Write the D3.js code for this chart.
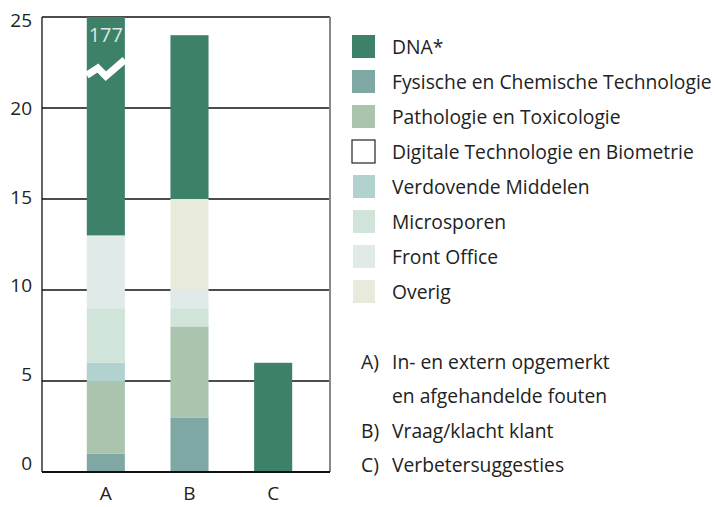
<!DOCTYPE html>
<html>
<head>
<meta charset="utf-8">
<script src="https://cdn.jsdelivr.net/npm/d3@7"></script>
<style>
	body { margin: 0; background: #fff; }
	svg text { font-family: "Open Sans", Roboto, sans-serif; fill: #222; }
</style>
</head>
<body>
<svg id="chart" width="715" height="507"></svg>
<script>
'use strict';

//Data
var categories = ['A', 'B', 'C'];
var seriesNames = ['DNA*', 'Fysische en Chemische Technologie', 'Pathologie en Toxicologie',
	'Digitale Technologie en Biometrie', 'Verdovende Middelen', 'Microsporen', 'Front Office', 'Overig'];
// values per category (A, B, C)
var dnaValues = [164, 9, 6];
var fysischeValues = [1, 3, 0];
var pathologieValues = [4, 5, 0];
var digitaleValues = [0, 0, 0];
var verdovendeValues = [1, 0, 0];
var microsporenValues = [3, 1, 0];
var frontOfficeValues = [4, 1, 0];
var overigValues = [0, 5, 0];
var yTicks = [0, 5, 10, 15, 20, 25];
var noteLines = [
	['A)', 'In- en extern opgemerkt'],
	['', 'en afgehandelde fouten'],
	['B)', 'Vraag/klacht klant'],
	['C)', 'Verbetersuggesties']
];

//Colors per series
var colors = {
	'DNA*': '#3d8169',
	'Fysische en Chemische Technologie': '#7fa8a4',
	'Pathologie en Toxicologie': '#abc4ad',
	'Digitale Technologie en Biometrie': '#ffffff',
	'Verdovende Middelen': '#b2d2cf',
	'Microsporen': '#d0e4da',
	'Front Office': '#e0eae9',
	'Overig': '#e8eadc'
};

//stacking order from bottom to top
var stackOrder = ['Fysische en Chemische Technologie', 'Pathologie en Toxicologie',
	'Digitale Technologie en Biometrie', 'Verdovende Middelen', 'Microsporen',
	'Front Office', 'Overig', 'DNA*'];

var valuesBySeries = {
	'DNA*': dnaValues,
	'Fysische en Chemische Technologie': fysischeValues,
	'Pathologie en Toxicologie': pathologieValues,
	'Digitale Technologie en Biometrie': digitaleValues,
	'Verdovende Middelen': verdovendeValues,
	'Microsporen': microsporenValues,
	'Front Office': frontOfficeValues,
	'Overig': overigValues
};

var table = categories.map(function(c, i) {
	var row = {cat: c};
	seriesNames.forEach(function(s) { row[s] = valuesBySeries[s][i]; });
	return row;
});

var svg = d3.select('#chart');

var plot = {left: 42, right: 330, top: 17, bottom: 472};
var yMax = 25;

var x = d3.scaleBand()
	.domain(categories)
	.range([64, 315])
	.paddingInner(0.545)
	.paddingOuter(0.2725);

var y = d3.scaleLinear()
	.domain([0, yMax])
	.range([plot.bottom, plot.top]);

//tick labels sit a little off the gridlines in the original
var yLabel = d3.scaleLinear()
	.domain([0, yMax])
	.range([463, 20]);

//gridlines
svg.append('g')
	.selectAll('line')
	.data(yTicks.filter(function(t) { return t > 0; }))
	.enter().append('line')
		.attr('x1', plot.left).attr('x2', plot.right)
		.attr('y1', function(d) { return y(d); })
		.attr('y2', function(d) { return y(d); })
		.attr('stroke', '#111').attr('stroke-width', 1.3);

//stacked bars
var stack = d3.stack().keys(stackOrder);
var layers = stack(table);

svg.append('g')
	.selectAll('g')
	.data(layers)
	.enter().append('g')
		.attr('fill', function(d) { return colors[d.key]; })
	.selectAll('rect')
	.data(function(d) { return d; })
	.enter().append('rect')
		.attr('x', function(d) { return x(d.data.cat); })
		.attr('width', x.bandwidth())
		.attr('y', function(d) { return y(Math.min(d[1], yMax)); })
		.attr('height', function(d) {
			return Math.max(0, y(Math.min(d[0], yMax)) - y(Math.min(d[1], yMax)));
		});

//break mark on bars that go past the axis
table.forEach(function(row) {
	var total = d3.sum(stackOrder, function(s) { return row[s]; });
	if (total <= yMax) return;
	var x0 = x(row.cat), w = x.bandwidth();
	var pts = [[x0, 21.8], [x0 + w * 0.29, 22.2], [x0 + w * 0.5, 21.75], [x0 + w, 22.65]];
	svg.append('path')
		.attr('d', d3.line()(pts.map(function(p) { return [p[0], y(p[1])]; })))
		.attr('fill', 'none')
		.attr('stroke', '#fff')
		.attr('stroke-width', 7)
		.attr('stroke-linejoin', 'miter');
	svg.append('text')
		.attr('x', x0 + w / 2)
		.attr('y', y(23.6))
		.attr('text-anchor', 'middle')
		.style('font-size', '20px')
		.style('fill', '#dde8e4')
		.text(total);
});

//frame
svg.append('line')
	.attr('x1', plot.right).attr('x2', plot.right)
	.attr('y1', plot.top).attr('y2', plot.bottom)
	.attr('stroke', '#888').attr('stroke-width', 2);
svg.append('line')
	.attr('x1', plot.left).attr('x2', plot.left)
	.attr('y1', plot.top).attr('y2', plot.bottom)
	.attr('stroke', '#111').attr('stroke-width', 1.3);
svg.append('line')
	.attr('x1', plot.left).attr('x2', plot.right)
	.attr('y1', plot.bottom).attr('y2', plot.bottom)
	.attr('stroke', '#111').attr('stroke-width', 2);

//y axis labels
var yAxis = svg.append('g')
	.attr('transform', 'translate(32,0)')
	.call(d3.axisLeft(yLabel).tickValues(yTicks).tickSize(0).tickPadding(0));
yAxis.select('.domain').remove();
yAxis.selectAll('text')
	.style('font-size', '19px')
	.style('font-family', '"Open Sans", sans-serif')
	.attr('fill', '#222');

//x axis labels
var xAxis = svg.append('g')
	.attr('transform', 'translate(0,' + plot.bottom + ')')
	.call(d3.axisBottom(x).tickSize(0).tickPadding(15));
xAxis.select('.domain').remove();
xAxis.selectAll('text')
	.style('font-size', '19px')
	.style('font-family', '"Open Sans", sans-serif')
	.attr('fill', '#222');

//legend
var legend = svg.append('g')
	.selectAll('g')
	.data(seriesNames)
	.enter().append('g')
		.attr('transform', function(d, i) { return 'translate(352,' + (35 + i * 35) + ')'; });
legend.append('rect')
	.attr('x', function(d, i) { return i < 4 ? 0 : 1; })
	.attr('width', function(d, i) { return i < 4 ? 23 : 22; })
	.attr('height', 23)
	.attr('fill', function(d) { return colors[d]; })
	.attr('stroke', function(d) { return d === 'Digitale Technologie en Biometrie' ? '#222' : 'none'; })
	.attr('stroke-width', 1.2);
legend.append('text')
	.attr('x', 40)
	.attr('y', 12)
	.attr('dy', '0.35em')
	.style('font-size', '19.3px')
	.text(function(d) { return d; });

//notes on the categories
var notes = svg.append('g')
	.selectAll('g')
	.data(noteLines)
	.enter().append('g')
		.attr('transform', function(d, i) { return 'translate(0,' + (362 + i * 34.5) + ')'; });
notes.append('text')
	.attr('x', 361)
	.attr('dy', '0.35em')
	.style('font-size', '19.3px')
	.text(function(d) { return d[0]; });
notes.append('text')
	.attr('x', 392)
	.attr('dy', '0.35em')
	.style('font-size', '19.3px')
	.text(function(d) { return d[1]; });
</script>
</body>
</html>
